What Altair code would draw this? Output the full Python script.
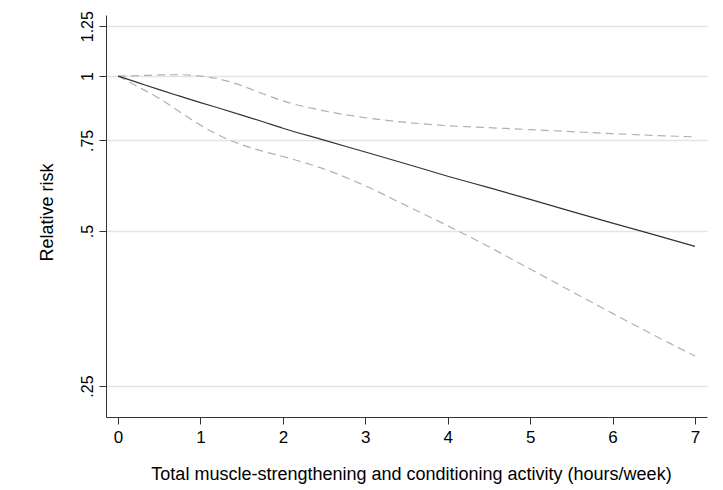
import altair as alt
import pandas as pd

# Data
hours = [0, 0.25, 0.5, 0.75, 1, 1.25, 1.5, 1.75, 2, 2.5, 3, 3.5, 4, 4.5, 5, 5.5, 6, 6.5, 7]
rr_est = [1.0, 0.970, 0.941, 0.914, 0.888, 0.864, 0.840, 0.816, 0.792, 0.751, 0.712,
          0.675, 0.639, 0.607, 0.576, 0.546, 0.518, 0.492, 0.467]
rr_upper = [1.0, 1.002, 1.005, 1.006, 1.0, 0.985, 0.958, 0.925, 0.895, 0.856, 0.830,
            0.813, 0.801, 0.794, 0.787, 0.780, 0.773, 0.767, 0.762]
rr_lower = [1.0, 0.952, 0.905, 0.852, 0.803, 0.764, 0.736, 0.715, 0.698, 0.660, 0.612,
            0.560, 0.512, 0.466, 0.422, 0.382, 0.346, 0.314, 0.286]

x_ticks = [0, 1, 2, 3, 4, 5, 6, 7]
y_ticks = [0.25, 0.5, 0.75, 1, 1.25]

df = pd.DataFrame({"x": hours, "est": rr_est, "hi": rr_upper, "lo": rr_lower})

FONT = "Liberation Sans"

xscale = alt.Scale(domain=[-0.146, 7.146], nice=False, zero=False)
yscale = alt.Scale(type="log", domain=[0.2177, 1.314], nice=False, zero=False)

xaxis = alt.Axis(
    values=x_ticks, format="d", grid=False, tickSize=7, labelPadding=18,
    labelBaseline="alphabetic", labelFontSize=17,
    labelFont=FONT, titleFont=FONT, titleFontSize=18, titleFontWeight="normal",
    titleBaseline="alphabetic", titleY=62, titleX=305, titleAlign="center",
    domainColor="#333333", tickColor="#333333",
    labelColor="#000000", titleColor="#000000",
    title="Total muscle-strengthening and conditioning activity (hours/week)",
)
yaxis = alt.Axis(
    values=y_ticks, grid=True, gridColor="#e4e4e4", gridWidth=1.5,
    tickSize=7, labelPadding=7, labelAngle=270, labelAlign="center",
    labelBaseline="alphabetic", labelFontSize=16, labelFont=FONT,
    labelExpr="datum.value == 1 ? '1' : replace(format(datum.value, ''), '0.', '.')",
    titleFont=FONT, titleFontSize=18, titleFontWeight="normal",
    titleX=-54, titleY=197, titleAngle=270, titleBaseline="alphabetic", titleAlign="center",
    domainColor="#333333", tickColor="#333333", labelColor="#000000",
    titleColor="#000000", title="Relative risk",
)

base = alt.Chart(df)

est = base.mark_line(color="#333333", strokeWidth=1.2, clip=True, interpolate="monotone").encode(
    x=alt.X("x:Q", scale=xscale, axis=xaxis),
    y=alt.Y("est:Q", scale=yscale, axis=yaxis),
)
hi = base.mark_line(color="#b0b0b0", strokeWidth=1.2, strokeDash=[8, 5], clip=True,
                    interpolate="monotone").encode(
    x=alt.X("x:Q", scale=xscale), y=alt.Y("hi:Q", scale=yscale)
)
lo = base.mark_line(color="#b0b0b0", strokeWidth=1.2, strokeDash=[8, 5], clip=True,
                    interpolate="monotone").encode(
    x=alt.X("x:Q", scale=xscale), y=alt.Y("lo:Q", scale=yscale)
)

chart = alt.layer(hi, lo, est).properties(
    width=601, height=402,
    autosize=alt.AutoSizeParams(type="none"),
    padding={"left": 98, "top": 7, "right": 8, "bottom": 70},
    background="white",
).configure_view(stroke=None)

chart.save("out.html", embed_options={"renderer": "svg", "actions": False})
